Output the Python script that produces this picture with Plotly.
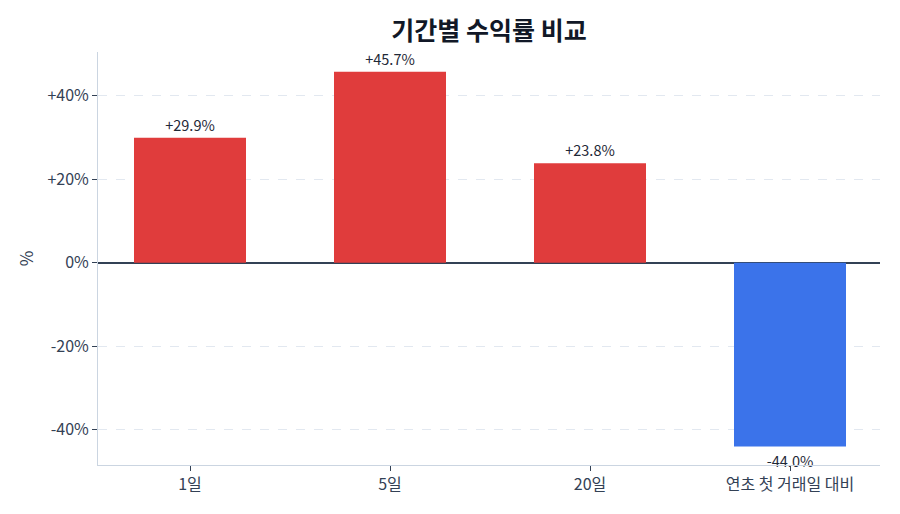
import plotly.graph_objects as go

categories = ["1일", "5일", "20일", "연초 첫 거래일 대비"]
returns = [29.9, 45.7, 23.8, -44.0]
ytick_vals = [-40, -20, 0, 20, 40]
ytick_text = ["-40%", "-20%", "0%", "+20%", "+40%"]

colors = ["#e03c3c" if v >= 0 else "#3b73ea" for v in returns]
labels = [f"{v:+.1f}%" for v in returns]

FONT = "Noto Sans CJK KR"

fig = go.Figure(go.Bar(
    x=categories, y=returns, marker_color=colors, marker_line_width=0,
    width=0.56, text=labels, textposition="outside", cliponaxis=False,
    textfont=dict(family=FONT, size=14.5, color="#1f2937"),
))

fig.update_layout(
    width=900, height=514,
    margin=dict(l=98, r=20, t=52, b=49),
    plot_bgcolor="white", paper_bgcolor="white",
    font=dict(family=FONT, size=16, color="#334155"),
    title=dict(text="<b>기간별 수익률 비교</b>", x=0.5, xref="paper", y=0.94, yanchor="middle",
               font=dict(family=FONT, size=25, color="#111827")),
    showlegend=False,
)
fig.update_xaxes(
    range=[-0.46, 3.45], showline=True, linecolor="#cbd5e1", linewidth=1,
    ticks="outside", ticklen=5, tickcolor="#334155", showgrid=False,
    tickfont=dict(family=FONT, size=16, color="#334155"),
)
fig.update_yaxes(
    range=[-48.4, 50.4], tickvals=ytick_vals, ticktext=ytick_text,
    showline=True, linecolor="#cbd5e1", linewidth=1,
    ticks="outside", ticklen=5, tickcolor="#334155",
    showgrid=True, gridcolor="#e2e8f0", griddash="dash", gridwidth=1,
    zeroline=True, zerolinecolor="#334155", zerolinewidth=1.5,
    title=dict(text="%", font=dict(family=FONT, size=17, color="#334155"), standoff=9),
    tickfont=dict(family=FONT, size=16, color="#334155"),
)

fig.write_html("out.html")
